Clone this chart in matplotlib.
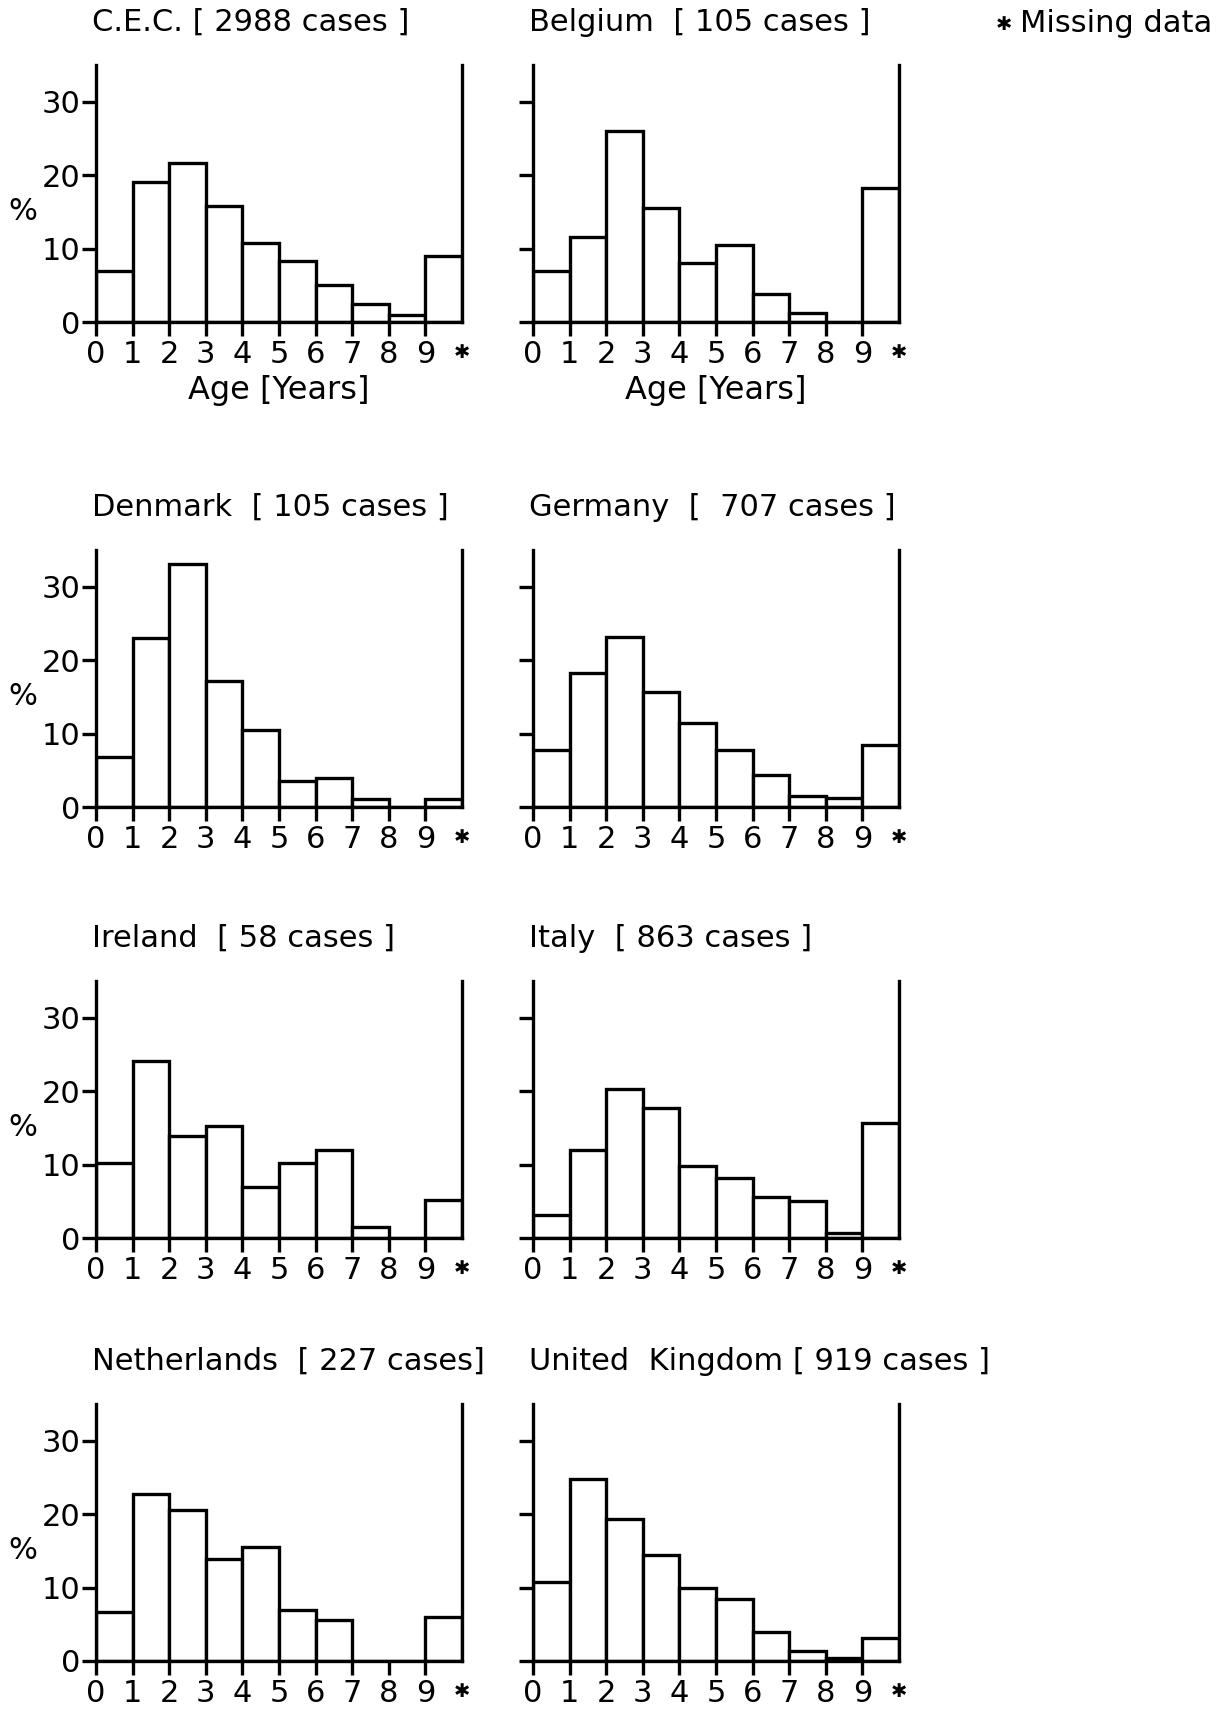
import matplotlib
matplotlib.use("Agg")
import matplotlib.pyplot as plt
import numpy as np

# bins: 0-1, 1-2, ..., 8-9 years, last bin (9-10 slot) = missing data
bin_left = np.arange(10)
tick_pos = np.arange(11)
tick_labels = ["0", "1", "2", "3", "4", "5", "6", "7", "8", "9", "✱"]
y_ticks = [0, 10, 20, 30]

titles = ["C.E.C. [ 2988 cases ]", "Belgium  [ 105 cases ]",
          "Denmark  [ 105 cases ]", "Germany  [  707 cases ]",
          "Ireland  [ 58 cases ]", "Italy  [ 863 cases ]",
          "Netherlands  [ 227 cases]", "United  Kingdom [ 919 cases ]"]

cec         = [7.0, 19.0, 21.6, 15.8, 10.7, 8.3, 5.1, 2.4, 1.0, 9.0]
belgium     = [6.9, 11.6, 26.0, 15.5, 8.0, 10.5, 3.8, 1.2, 0.0, 18.3]
denmark     = [6.8, 23.0, 33.1, 17.1, 10.5, 3.6, 3.9, 1.1, 0.0, 1.1]
germany     = [7.8, 18.3, 23.2, 15.7, 11.5, 7.8, 4.4, 1.5, 1.2, 8.5]
ireland     = [10.2, 24.1, 13.9, 15.3, 7.0, 10.2, 12.0, 1.5, 0.0, 5.2]
italy       = [3.2, 12.0, 20.3, 17.7, 9.8, 8.2, 5.6, 5.1, 0.7, 15.7]
netherlands = [6.7, 22.8, 20.6, 13.9, 15.5, 7.0, 5.6, 0.0, 0.0, 6.0]
uk          = [10.7, 24.8, 19.4, 14.4, 9.9, 8.4, 4.0, 1.4, 0.4, 3.1]

series = [cec, belgium, denmark, germany, ireland, italy, netherlands, uk]

plt.rcParams["font.family"] = ["DejaVu Sans"]
W, H = 1220, 1720
fig = plt.figure(figsize=(W / 100, H / 100), dpi=100)

row_zero = [322, 807, 1238, 1661]     # pixel row of the zero line
col_left = [96, 533]
ax_w, ax_h = 366, 257
LW = 2.4
FS = 22

for i, (title, vals) in enumerate(zip(titles, series)):
    r, c = divmod(i, 2)
    ax = fig.add_axes([col_left[c] / W, 1 - row_zero[r] / H, ax_w / W, ax_h / H])
    ax.bar(bin_left, vals, width=1, align="edge", facecolor="white",
           edgecolor="black", linewidth=LW, zorder=2)
    ax.set_xlim(0, 10)
    ax.set_ylim(0, 35)
    ax.spines["top"].set_visible(False)
    for s in ("left", "right", "bottom"):
        ax.spines[s].set_linewidth(LW)
    ax.set_xticks(tick_pos, tick_labels)
    ax.set_yticks(y_ticks)
    ax.tick_params(axis="both", direction="out", length=10, width=LW,
                   labelsize=FS)
    ax.tick_params(axis="x", pad=3)
    ax.tick_params(axis="y", pad=1)
    # no tick under the right-hand line, smaller star for "missing"
    star = ax.xaxis.get_major_ticks()[-1]
    star.tick1line.set_visible(False)
    star.label1.set_fontsize(14)
    star.label1.set_y(-0.012)
    if c == 0:
        ax.text(-0.2, 15, "%", transform=ax.get_yaxis_transform(),
                ha="center", va="center", fontsize=FS)
    else:
        ax.tick_params(labelleft=False)
    if r == 0:
        ax.text(0.5, -0.265, "Age [Years]", transform=ax.transAxes,
                ha="center", va="center", fontsize=23)
    ax.text(-0.012, 1.165, title, transform=ax.transAxes,
            ha="left", va="center", fontsize=22)

fig.text(1004 / W, 1 - 25 / H, "✱", ha="center", va="center", fontsize=14)
fig.text(1212 / W, 1 - 24 / H, "Missing data", ha="right", va="center",
         fontsize=22)

fig.savefig("out.png", dpi=100)
